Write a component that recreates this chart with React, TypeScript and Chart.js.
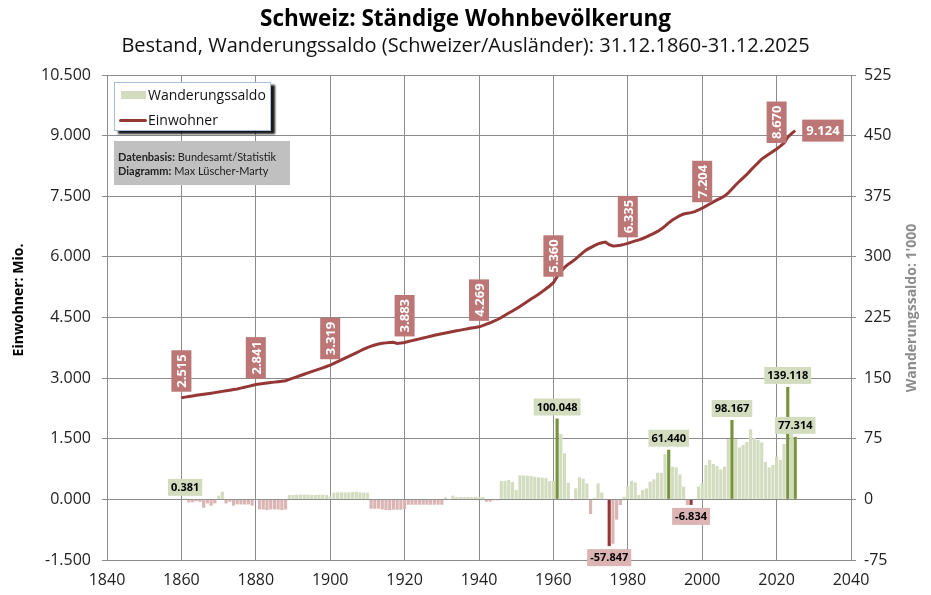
import { useEffect, useRef } from "react";
import { Chart, registerables } from "chart.js";

Chart.register(...registerables);

// Ständige Wohnbevölkerung, Mio., jeweils 31.12., ab 1860
const FIRST_POP_YEAR = 1860;
const population = [
  2.515, 2.530, 2.545, 2.560, 2.575, 2.590, 2.601, 2.614, 2.627, 2.641,
  2.656, 2.672, 2.686, 2.701, 2.716, 2.731, 2.752, 2.774, 2.796, 2.818,
  2.841, 2.853, 2.865, 2.877, 2.889, 2.901, 2.913, 2.925, 2.937, 2.968,
  3.000, 3.032, 3.064, 3.096, 3.128, 3.160, 3.192, 3.223, 3.255, 3.287,
  3.319, 3.363, 3.407, 3.451, 3.495, 3.539, 3.583, 3.627, 3.671, 3.715,
  3.757, 3.790, 3.820, 3.845, 3.862, 3.872, 3.880, 3.886, 3.857, 3.868,
  3.883, 3.905, 3.927, 3.949, 3.971, 3.993, 4.015, 4.037, 4.059, 4.080,
  4.098, 4.116, 4.134, 4.152, 4.170, 4.188, 4.206, 4.224, 4.240, 4.254,
  4.269, 4.300, 4.335, 4.370, 4.410, 4.450, 4.500, 4.555, 4.610, 4.660,
  4.715, 4.775, 4.835, 4.895, 4.955, 5.015, 5.075, 5.140, 5.210, 5.280,
  5.360, 5.510, 5.640, 5.740, 5.820, 5.880, 5.950, 6.030, 6.110, 6.180,
  6.230, 6.280, 6.320, 6.350, 6.365, 6.300, 6.270, 6.275, 6.290, 6.310,
  6.335, 6.365, 6.395, 6.420, 6.455, 6.495, 6.540, 6.580, 6.630, 6.690,
  6.760, 6.840, 6.910, 6.970, 7.020, 7.060, 7.080, 7.095, 7.120, 7.160,
  7.204, 7.255, 7.310, 7.360, 7.410, 7.455, 7.505, 7.580, 7.680, 7.780,
  7.870, 7.955, 8.040, 8.140, 8.235, 8.325, 8.420, 8.485, 8.545, 8.605,
  8.670, 8.740, 8.815, 8.960, 9.050, 9.124,
];

// Wanderungssaldo, 1'000 Personen, ab 1861
const FIRST_SALDO_YEAR = 1861;
const saldo = [
  0.381, -3.7, -3.7, -2.2, -3.0, -10.3, -5.0, -7.8, -5.0,
  4.5, 9.5, -5.0, -3.0, -7.8, -6.2, -6.2, -6.4, -6.2, -7.8,
  -0.5, -12.4, -12.6, -13.3, -12.4, -12.4, -12.6, -13.3, -12.4, 5.4,
  5.4, 5.8, 5.8, 5.8, 5.8, 5.4, 5.4, 5.8, 5.8, 5.4,
  3.7, 8.3, 8.7, 8.7, 8.7, 8.7, 9.1, 9.5, 8.7, 8.3,
  8.3, -11.6, -11.6, -11.6, -12.4, -13.2, -13.2, -12.8, -12.8, -12.8,
  -12.0, -6.6, -6.6, -6.6, -6.6, -6.6, -6.6, -6.6, -6.6, -6.6,
  -6.6, 2.5, 0.3, 4.6, 2.9, 2.9, 2.9, 2.9, 2.9, 2.9,
  2.9, 2.9, -2.9, -2.9, -1.2, -1.2, 23.0, 23.0, 24.0, 21.5,
  11.5, 29.7, 29.7, 29.3, 28.9, 28.0, 27.2, 26.8, 26.4, 22.7,
  22.7, 100.048, 81.0, 57.0, 20.6, -1.2, 13.6, 27.2, 25.6, 19.8,
  -18.2, 2.0, 19.8, 8.3, 0.5, -57.847, -54.9, -25.0, -7.0, 3.3,
  16.5, 23.0, 21.0, 5.4, 11.6, 13.6, 21.9, 24.8, 33.0, 33.0,
  56.0, 61.44, 40.4, 39.6, 30.9, 15.7, -7.0, -6.834, 0.4, 15.7,
  19.8, 42.5, 48.7, 43.7, 41.3, 37.0, 40.4, 74.7, 98.167, 74.7,
  64.4, 67.2, 71.0, 86.6, 75.9, 73.4, 70.5, 46.2, 39.6, 42.5,
  52.8, 48.7, 68.5, 139.118, 82.5, 77.314,
];

const highlightYears = [1861, 1961, 1975, 1991, 1997, 2008, 2023, 2025];
const popLabelYears = [1860, 1880, 1900, 1920, 1940, 1960, 1980, 2000, 2020];
const lastPopYear = 2025;

const TITLE = "Schweiz: Ständige Wohnbevölkerung";
const SUBTITLE = "Bestand, Wanderungssaldo (Schweizer/Ausländer): 31.12.1860-31.12.2025";

const FONT = "'Open Sans', sans-serif";
const GRID = "#8c8c8c";
const LINE_RED = "#953735";
const BAR_GREEN = "#d3dcbf";
const BAR_GREEN_DARK = "#77933c";
const BAR_PINK = "#dbb4b4";

const labelPlugin = {
  id: "valueLabels",
  afterDatasetsDraw(chart: any) {
    const ctx = chart.ctx as CanvasRenderingContext2D;
    const barMeta = chart.getDatasetMeta(0);
    const lineMeta = chart.getDatasetMeta(1);
    ctx.save();
    ctx.textAlign = "center";
    ctx.textBaseline = "middle";

    // Saldo-Etiketten
    ctx.font = `bold 11px ${FONT}`;
    saldo.forEach((v, i) => {
      if (!highlightYears.includes(FIRST_SALDO_YEAR + i)) return;
      const el = barMeta.data[i];
      const txt = v.toFixed(3);
      const w = ctx.measureText(txt).width + 6;
      const h = 17;
      const top = v >= 0 ? Math.min(el.y, el.base) - 3 - h : Math.max(el.y, el.base) + 3;
      ctx.fillStyle = v >= 0 ? BAR_GREEN : "#dcb4b4";
      ctx.fillRect(el.x - w / 2, top, w, h);
      ctx.fillStyle = "#000";
      ctx.fillText(txt, el.x, top + h / 2 + 0.5);
    });

    // Einwohner-Etiketten
    ctx.font = `bold 13px ${FONT}`;
    popLabelYears.forEach((year) => {
      const i = year - FIRST_POP_YEAR;
      const el = lineMeta.data[i];
      const txt = population[i].toFixed(3);
      const len = ctx.measureText(txt).width + 8;
      ctx.save();
      ctx.translate(el.x, el.y - 6);
      ctx.rotate(-Math.PI / 2);
      ctx.fillStyle = "#bc7676";
      ctx.fillRect(0, -10, len, 20);
      ctx.fillStyle = "#fff";
      ctx.fillText(txt, len / 2, 1);
      ctx.restore();
    });
    const li = lastPopYear - FIRST_POP_YEAR;
    const last = lineMeta.data[li];
    const lastTxt = population[li].toFixed(3);
    const lw = ctx.measureText(lastTxt).width + 8;
    ctx.fillStyle = "#bc7676";
    ctx.fillRect(last.x + 7, last.y - 11, lw, 22);
    ctx.fillStyle = "#fff";
    ctx.fillText(lastTxt, last.x + 7 + lw / 2, last.y + 1);
    ctx.restore();
  },
  afterDraw(chart: any) {
    const ctx = chart.ctx as CanvasRenderingContext2D;
    ctx.save();
    ctx.textAlign = "center";
    ctx.textBaseline = "middle";
    ctx.font = `bold 14px ${FONT}`;
    ctx.fillStyle = "#000";
    ctx.translate(19, 300);
    ctx.rotate(-Math.PI / 2);
    ctx.fillText("Einwohner: Mio.", 0, 0);
    ctx.restore();

    ctx.save();
    ctx.textAlign = "center";
    ctx.textBaseline = "middle";
    ctx.font = `bold 14px ${FONT}`;
    ctx.fillStyle = "#8c8c8c";
    ctx.translate(912, 308);
    ctx.rotate(-Math.PI / 2);
    ctx.fillText("Wanderungssaldo: 1'000", 0, 0);
    ctx.restore();
  },
};

function PopulationChart() {
  const ref = useRef<HTMLCanvasElement | null>(null);

  useEffect(() => {
    document.body.style.margin = "0";
    if (!ref.current) return;
    Chart.defaults.font.family = FONT;

    const chart = new Chart(ref.current, {
      type: "bar",
      data: {
        datasets: [
          {
            type: "bar",
            label: "Wanderungssaldo",
            data: saldo.map((v, i) => ({ x: FIRST_SALDO_YEAR + i, y: v })),
            yAxisID: "y1",
            backgroundColor: saldo.map((v, i) => {
              const hi = highlightYears.includes(FIRST_SALDO_YEAR + i);
              if (v >= 0) return hi ? BAR_GREEN_DARK : BAR_GREEN;
              return hi ? LINE_RED : BAR_PINK;
            }),
            categoryPercentage: 1,
            barPercentage: 0.85,
            order: 2,
          } as any,
          {
            type: "line",
            label: "Einwohner",
            data: population.map((v, i) => ({ x: FIRST_POP_YEAR + i, y: v })),
            yAxisID: "y",
            borderColor: LINE_RED,
            borderWidth: 3,
            pointRadius: 0,
            tension: 0,
            order: 1,
          } as any,
        ],
      },
      options: {
        animation: false,
        responsive: false,
        layout: { padding: 0 },
        plugins: {
          legend: { display: false },
          tooltip: { enabled: false },
          title: {
            display: true,
            text: TITLE,
            color: "#000",
            font: { size: 22.5, weight: "bold" },
            padding: { top: 6.5, bottom: 0 },
          },
          subtitle: {
            display: true,
            text: SUBTITLE,
            color: "#111",
            font: { size: 20 },
            padding: { top: 0.5, bottom: 17 },
          },
        },
        scales: {
          x: {
            type: "linear",
            min: 1840,
            max: 2040,
            offset: false,
            ticks: { stepSize: 20, callback: (v: any) => String(v), font: { size: 16 }, color: "#222", padding: 11 },
            grid: { color: GRID, drawTicks: false, offset: false },
            border: { color: GRID },
            afterFit: (s: any) => { s.height = 35; },
          },
          y: {
            position: "left",
            min: -1.5,
            max: 10.5,
            ticks: { stepSize: 1.5, callback: (v: any) => Number(v).toFixed(3), font: { size: 16 }, color: "#222", padding: 11 },
            grid: { color: GRID, tickLength: 5 },
            border: { color: GRID },
            afterFit: (s: any) => { s.width = 107; },
          },
          y1: {
            position: "right",
            min: -75,
            max: 525,
            ticks: { stepSize: 75, callback: (v: any) => String(v), font: { size: 16 }, color: "#222", padding: 8 },
            grid: { drawOnChartArea: false, color: GRID, tickLength: 5 },
            border: { color: GRID },
            afterFit: (s: any) => { s.width = 80; },
          },
        },
      } as any,
      plugins: [labelPlugin],
    });

    return () => chart.destroy();
  }, []);

  return (
    <div style={{ position: "relative", width: 931, height: 595, fontFamily: FONT }}>
      <canvas ref={ref} width={931} height={595} style={{ display: "block" }} />
      <div
        style={{
          position: "absolute", left: 114, top: 82, width: 155, height: 47,
          background: "#fff", border: "1px solid #a9bddf",
          boxShadow: "4px 3px 2px rgba(0,0,0,0.9)", fontSize: 14, color: "#111",
        }}
      >
        <div style={{ position: "absolute", left: 6, top: 8, width: 25, height: 8, background: BAR_GREEN }} />
        <div style={{ position: "absolute", left: 33, top: 2, lineHeight: "20px", whiteSpace: "nowrap" }}>Wanderungssaldo</div>
        <div style={{ position: "absolute", left: 4, top: 36, width: 28, height: 3, borderRadius: 2, background: LINE_RED }} />
        <div style={{ position: "absolute", left: 33, top: 27, lineHeight: "20px", whiteSpace: "nowrap" }}>Einwohner</div>
      </div>
      <div
        style={{
          position: "absolute", left: 114, top: 141, width: 176, height: 44,
          background: "#c0c0c0", fontFamily: "Lato, sans-serif", fontSize: 11, color: "#222",
          boxSizing: "border-box", padding: "9px 0 0 4px", lineHeight: "13.5px", whiteSpace: "nowrap",
        }}
      >
        <div><b>Datenbasis:</b> Bundesamt/Statistik</div>
        <div><b>Diagramm:</b> Max Lüscher-Marty</div>
      </div>
    </div>
  );
}

export default function App() {
  return <PopulationChart />;
}
